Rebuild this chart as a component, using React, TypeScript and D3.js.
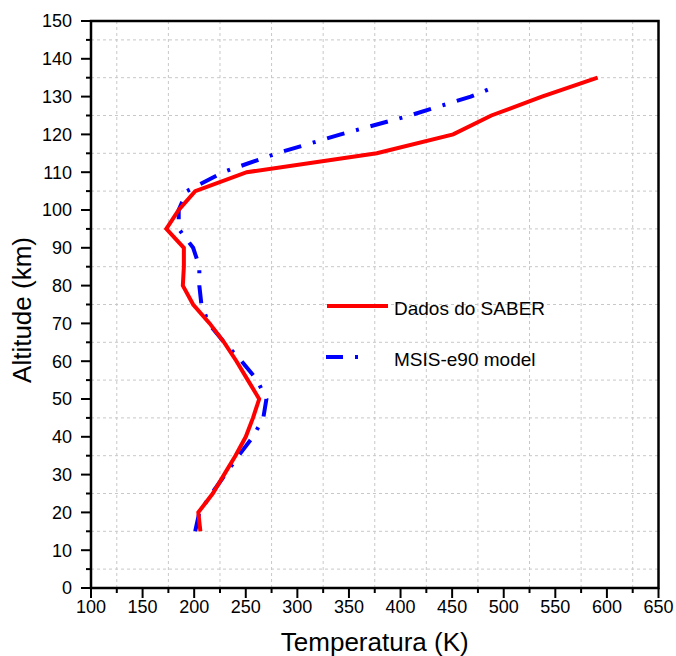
import React from "react";
import * as d3 from "d3";

const saberAlt = [15, 20, 25, 30, 35, 40, 45, 50, 55, 60, 65, 70, 75, 80, 85, 90, 95, 100, 105, 110, 115, 120, 125, 130, 135];
const saberTemp = [206, 204, 218, 229, 240, 250, 257, 263, 252, 241, 229, 215, 199, 189, 190, 190, 173, 185, 201, 251, 377, 451, 488, 537, 591];

const msisAlt = [15, 20, 25, 30, 35, 40, 45, 50, 55, 60, 65, 70, 75, 80, 85, 90, 95, 100, 105, 110, 115, 120, 125, 130, 133];
const msisTemp = [201, 205, 217, 230, 243, 257, 267, 270, 261, 246, 229, 214, 207, 205, 205, 199, 185, 185, 193, 228, 280, 342, 409, 468, 495];

const xTicks = [100, 150, 200, 250, 300, 350, 400, 450, 500, 550, 600, 650];
const yTicks = [0, 10, 20, 30, 40, 50, 60, 70, 80, 90, 100, 110, 120, 130, 140, 150];
const xMinor = [125, 175, 225, 275, 325, 375, 425, 475, 525, 575, 625];
const yMinor = [5, 15, 25, 35, 45, 55, 65, 75, 85, 95, 105, 115, 125, 135, 145];

const seriesNames = ["Dados do SABER", "MSIS-e90 model"];

const W = 676;
const H = 656;
const L = 91;
const R = 658.5;
const T = 21;
const B = 588;

const FONT = "'Liberation Sans', Arial, sans-serif";
const DASH = "18,12,3,12";

export default function App() {
  const x = d3.scaleLinear().domain([100, 650]).range([L, R]);
  const y = d3.scaleLinear().domain([0, 150]).range([B, T]);

  const line = d3
    .line<[number, number]>()
    .x((d) => x(d[0]))
    .y((d) => y(d[1]));

  const saber = saberTemp.map((t, i) => [t, saberAlt[i]] as [number, number]);
  const msis = msisTemp.map((t, i) => [t, msisAlt[i]] as [number, number]);

  return (
    <svg
      width={W}
      height={H}
      style={{ position: "absolute", left: 0, top: 0, background: "#fff" }}
      fontFamily={FONT}
    >
      <rect x={0} y={0} width={W} height={H} fill="#fff" />
      {/* grid at minor positions */}
      {xMinor.map((v) => (
        <line key={"gx" + v} x1={x(v)} x2={x(v)} y1={T} y2={B} stroke="#c8c8c8" strokeWidth={1} strokeDasharray="3,3" />
      ))}
      {yMinor.map((v) => (
        <line key={"gy" + v} x1={L} x2={R} y1={y(v)} y2={y(v)} stroke="#c8c8c8" strokeWidth={1} strokeDasharray="3,3" />
      ))}

      {/* data */}
      <path d={line(msis) || ""} fill="none" stroke="#0000ff" strokeWidth={4} strokeDasharray={DASH} />
      <path d={line(saber) || ""} fill="none" stroke="#ff0000" strokeWidth={4} strokeLinejoin="miter" />

      {/* frame */}
      <rect x={L} y={T} width={R - L} height={B - T} fill="none" stroke="#000" strokeWidth={2.5} />

      {/* x ticks */}
      {xTicks.map((v) => (
        <g key={"xt" + v}>
          <line x1={x(v)} x2={x(v)} y1={B} y2={B + 10} stroke="#000" strokeWidth={2} />
          <text x={x(v)} y={613} textAnchor="middle" fontSize={18} fill="#000">
            {v}
          </text>
        </g>
      ))}
      {xMinor.map((v) => (
        <line key={"xm" + v} x1={x(v)} x2={x(v)} y1={B} y2={B + 5} stroke="#000" strokeWidth={2} />
      ))}

      {/* y ticks */}
      {yTicks.map((v) => (
        <g key={"yt" + v}>
          <line x1={L - 10} x2={L} y1={y(v)} y2={y(v)} stroke="#000" strokeWidth={2} />
          <text x={72} y={y(v)} dy="0.35em" textAnchor="end" fontSize={18} fill="#000">
            {v}
          </text>
        </g>
      ))}
      {yMinor.map((v) => (
        <line key={"ym" + v} x1={L - 5} x2={L} y1={y(v)} y2={y(v)} stroke="#000" strokeWidth={2} />
      ))}

      {/* axis titles */}
      <text x={(L + R) / 2} y={651} textAnchor="middle" fontSize={26} fill="#000">
        Temperatura (K)
      </text>
      <text
        transform={`translate(31, 310) rotate(-90)`}
        textAnchor="middle"
        fontSize={26}
        fill="#000"
      >
        Altitude (km)
      </text>

      {/* legend */}
      <line x1={327} x2={388} y1={306} y2={306} stroke="#ff0000" strokeWidth={4} />
      <text x={394} y={315} fontSize={19} fill="#000">
        {seriesNames[0]}
      </text>
      <line x1={326} x2={388} y1={357} y2={357} stroke="#0000ff" strokeWidth={4} strokeDasharray="17,12,3,40" />
      <text x={394} y={366} fontSize={19} fill="#000">
        {seriesNames[1]}
      </text>
    </svg>
  );
}
